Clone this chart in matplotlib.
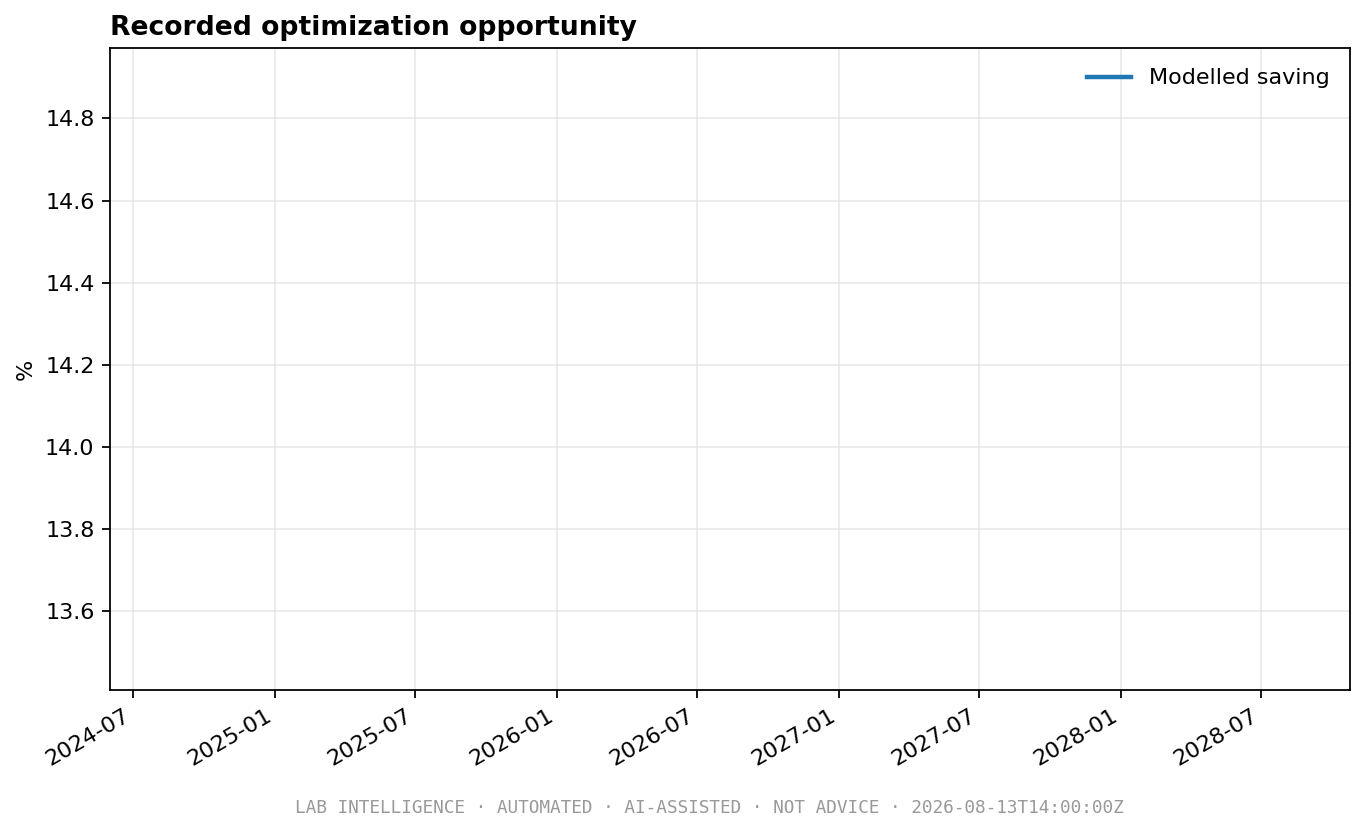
import matplotlib
matplotlib.use("Agg")
import matplotlib.pyplot as plt
import pandas as pd

dates = ["2026-08-13"]
values = [14.19]
series_label = "Modelled saving"
title = "Recorded optimization opportunity"
ylabel = "%"
footer = "LAB INTELLIGENCE · AUTOMATED · AI-ASSISTED · NOT ADVICE · 2026-08-13T14:00:00Z"

DPI = 160
fig = plt.figure(figsize=(1365 / DPI, 834 / DPI), dpi=DPI)
ax = fig.add_axes([0.0806, 0.173, 0.9084, 0.769])

x = pd.to_datetime(dates).to_pydatetime()
ax.plot(x, values, color="#1f77b4", lw=2, label=series_label)

for lab in ax.get_xticklabels():
    lab.set_rotation(30)
    lab.set_ha("right")
ax.tick_params(labelsize=10)
ax.grid(True, color="#dddddd", alpha=0.6, lw=0.8)
ax.set_axisbelow(True)
ax.set_ylabel(ylabel, fontsize=10)
ax.set_title(title, loc="left", fontsize=12, fontweight="bold")
ax.legend(loc="upper right", frameon=False, fontsize=10)

fig.text(0.52, 0.031, footer, ha="center", va="center", fontsize=8,
         color="#999999", family="DejaVu Sans Mono")

fig.autofmt_xdate(rotation=30, ha="right")
ax.set_position([0.0806, 0.173, 0.9084, 0.769])
fig.savefig("out.png", dpi=DPI)
